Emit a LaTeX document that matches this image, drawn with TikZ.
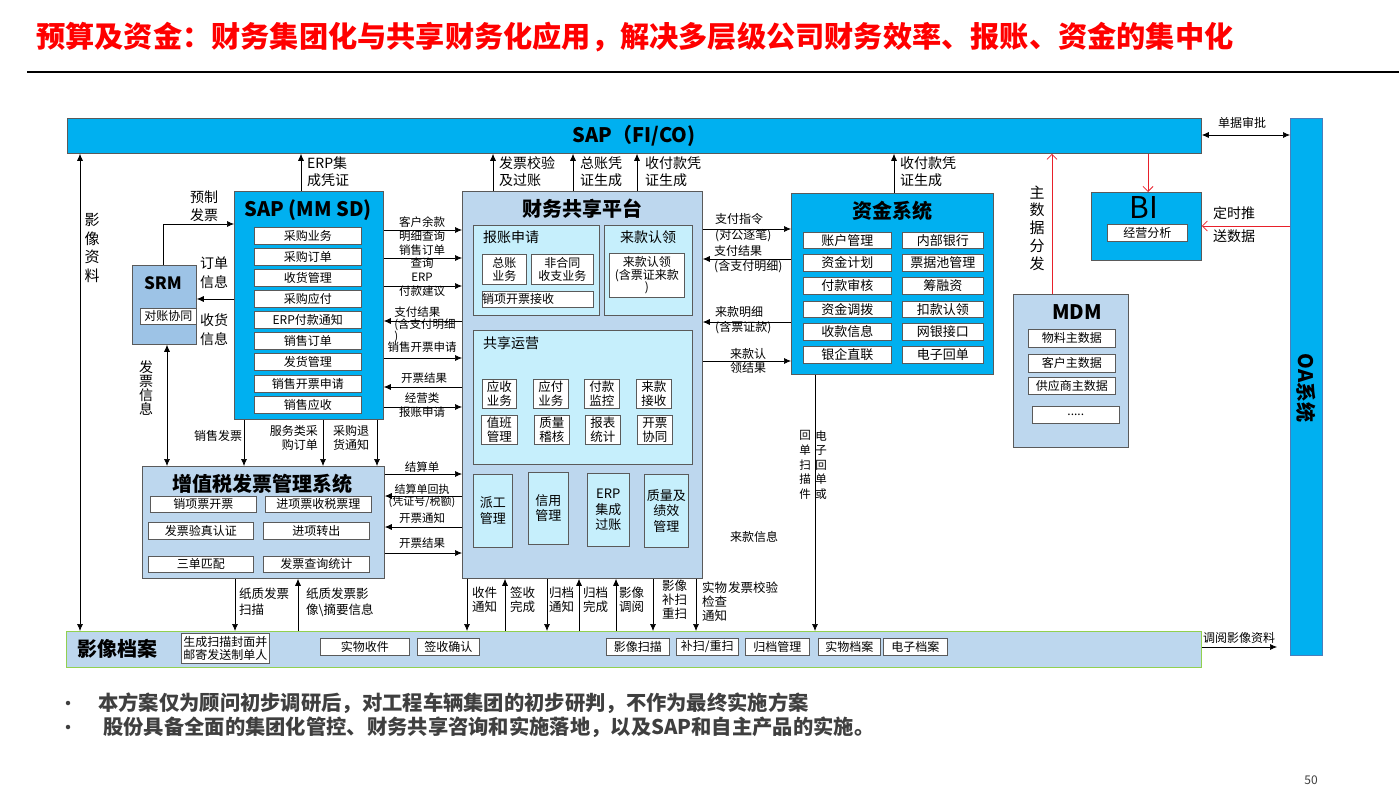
\documentclass[tikz,border=0pt]{standalone}
\usepackage{fontspec}
\setmainfont{Noto Sans CJK SC}
\usetikzlibrary{arrows.meta}
\definecolor{cyanb}{HTML}{00B0F0}
\definecolor{lblue}{HTML}{BDD7EE}
\definecolor{lcyan}{HTML}{C6EFFC}
\definecolor{srmc}{HTML}{9DC3E6}
\definecolor{bord}{HTML}{5A5A5A}
\definecolor{grn}{HTML}{92D050}
\definecolor{oab}{HTML}{4A7EBB}
\definecolor{redc}{HTML}{E8202A}
\definecolor{foot}{HTML}{3F3F3F}
\newcommand\fsz[2]{\fontsize{#1pt}{#2pt}\selectfont}
\newcommand\mybox[7]{\node[#1,anchor=north west,minimum width={#5-#3},minimum height={#6-#4}] (#2) at (#3,#4) {#7};}
\tikzset{
 bigbox/.style={draw=bord,line width=0.8pt,inner sep=0pt},
 ib/.style={draw=bord,fill=white,line width=0.6pt,inner sep=0pt,font=\fsz{12}{13},align=center},
 cb/.style={draw=bord,fill=lcyan,line width=0.6pt,inner sep=0pt,font=\fsz{12.5}{14},align=center},
 lab/.style={inner sep=0pt,align=center,font=\fsz{11.5}{14}},
 lab12/.style={inner sep=0pt,align=center,font=\fsz{12}{14}},
 lab14/.style={inner sep=0pt,align=left,font=\fsz{14}{17}},
 grp/.style={inner sep=0pt,font=\fsz{14}{16}},
 ttl/.style={inner sep=0pt,font=\fsz{20}{24}\bfseries},
 arr/.style={line width=0.7pt,-{Latex[length=7pt,width=6pt]}},
 darr/.style={line width=0.7pt,{Latex[length=7pt,width=6pt]}-{Latex[length=7pt,width=6pt]}},
 rarr/.style={draw=redc,line width=0.8pt,-{Straight Barb[length=5pt,width=10pt]}},
}
\begin{document}
\begin{tikzpicture}[x=1pt,y=-1pt]
\useasboundingbox (0,0) rectangle (1399,794);
% title
\node[anchor=west,inner sep=0pt,font=\fsz{29.2}{32}\bfseries,text=red] (title) at (36,37) {预算及资金：财务集团化与共享财务化应用，解决多层级公司财务效率、报账、资金的集中化};
\draw[line width=1.2pt] (27,72) -- (1399,72);
% SAP FI/CO
\mybox{bigbox,fill=cyanb}{sapfi}{67}{118}{1201}{153}{}
\node[ttl] (sapfit) at (634,136) {SAP（FI/CO)};
% OA
\mybox{bigbox,fill=cyanb,draw=oab}{oa}{1290}{118}{1322}{655}{}
\node[ttl,rotate=-90] (oat) at (1306,388) {OA系统};
% BI
\mybox{bigbox,fill=cyanb}{bi}{1091}{192}{1201}{260}{}
\node[inner sep=0pt,font=\fsz{30}{30}] (bit) at (1144,208) {BI};
\mybox{ib}{bijy}{1107}{224}{1187}{241}{经营分析}
% MDM
\mybox{bigbox,fill=lblue}{mdm}{1013}{294}{1128}{447}{}
\node[ttl] (mdmt) at (1077,312) {MDM};
\mybox{ib}{m1}{1028}{329}{1115}{347}{物料主数据}
\mybox{ib}{m2}{1028}{354}{1115}{372}{客户主数据}
\mybox{ib}{m3}{1028}{377}{1115}{394}{供应商主数据}
\mybox{ib}{m4}{1032}{406}{1119}{423}{.....}
% 资金系统
\mybox{bigbox,fill=cyanb}{zj}{791}{193}{993}{374}{}
\node[ttl] (zjt) at (892,211) {资金系统};
\tikzset{zb/.style={ib,font=\fsz{13}{14}}}
\mybox{zb}{z1}{803}{232}{891}{248}{账户管理}
\mybox{zb}{z2}{803}{254}{891}{271}{资金计划}
\mybox{zb}{z3}{803}{277}{891}{294}{付款审核}
\mybox{zb}{z4}{803}{301}{891}{317}{资金调拨}
\mybox{zb}{z5}{803}{323}{891}{340}{收款信息}
\mybox{zb}{z6}{803}{346}{891}{363}{银企直联}
\mybox{zb}{z7}{902}{232}{983}{248}{内部银行}
\mybox{zb}{z8}{902}{254}{983}{271}{票据池管理}
\mybox{zb}{z9}{902}{277}{983}{294}{筹融资}
\mybox{zb}{z10}{902}{301}{983}{317}{扣款认领}
\mybox{zb}{z11}{902}{323}{983}{340}{网银接口}
\mybox{zb}{z12}{902}{346}{983}{363}{电子回单}
% 财务共享平台
\mybox{bigbox,fill=lblue}{cw}{462}{191}{702}{578}{}
\node[ttl] (cwt) at (582,209) {财务共享平台};
\mybox{cb}{bz}{473}{225}{599}{315}{}
\node[grp,anchor=west] (bzt) at (483,237) {报账申请};
\mybox{ib}{bz1}{482}{254}{526}{284}{总账\\业务}
\mybox{ib}{bz2}{531}{254}{593}{284}{非合同\\收支业务}
\mybox{ib}{bz3}{482}{291}{593}{307}{}
\node[inner sep=0pt,anchor=west,font=\fsz{12}{13}] (bz3t) at (482,299) {销项开票接收};
\mybox{cb}{lk}{604}{225}{692}{315}{}
\node[grp] (lkt) at (648,237) {来款认领};
\mybox{ib,font=\fsz{12}{12.5}}{lk1}{609}{253}{684}{297}{来款认领\\(含票证来款\\)}
\mybox{cb}{gx}{473}{330}{692}{464}{}
\node[grp,anchor=west] (gxt) at (483,343) {共享运营};
\tikzset{sb/.style={ib,font=\fsz{12.5}{13.5}}}
\mybox{sb}{g1}{482}{379}{516}{408}{应收\\业务}
\mybox{sb}{g2}{533}{379}{568}{408}{应付\\业务}
\mybox{sb}{g3}{584}{379}{619}{408}{付款\\监控}
\mybox{sb}{g4}{636}{379}{671}{408}{来款\\接收}
\mybox{sb}{g5}{481}{415}{517}{444}{值班\\管理}
\mybox{sb}{g6}{534}{415}{569}{444}{质量\\稽核}
\mybox{sb}{g7}{585}{415}{620}{444}{报表\\统计}
\mybox{sb}{g8}{637}{415}{672}{444}{开票\\协同}
\tikzset{pb/.style={cb,font=\fsz{13}{15.5}}}
\mybox{pb}{p1}{473}{474}{512}{547}{派工\\管理}
\mybox{pb}{p2}{528}{472}{568}{544}{信用\\管理}
\mybox{pb}{p3}{587}{473}{629}{546}{ERP\\集成\\过账}
\mybox{pb}{p4}{644}{474}{688}{547}{质量及\\绩效\\管理}
% SAP MM SD
\mybox{bigbox,fill=cyanb}{mmsd}{234}{191}{383}{419}{}
\node[ttl] (mmsdt) at (308,210) {SAP (MM SD)};
\mybox{ib}{s1}{254}{227}{361}{244}{采购业务}
\mybox{ib}{s2}{254}{248}{361}{265}{采购订单}
\mybox{ib}{s3}{254}{269}{361}{286}{收货管理}
\mybox{ib}{s4}{254}{290}{361}{307}{采购应付}
\mybox{ib}{s5}{254}{311}{361}{328}{ERP付款通知}
\mybox{ib}{s6}{254}{332}{361}{349}{销售订单}
\mybox{ib}{s7}{254}{353}{361}{370}{发货管理}
\mybox{ib}{s8}{254}{375}{361}{392}{销售开票申请}
\mybox{ib}{s9}{254}{396}{361}{413}{销售应收}
% SRM
\mybox{bigbox,fill=srmc}{srm}{132}{265}{196}{344}{}
\node[inner sep=0pt,font=\fsz{17}{20}\bfseries] (srmt) at (163,283) {SRM};
\mybox{ib}{srm1}{140}{308}{196}{324}{对账协同}
% 增值税
\mybox{bigbox,fill=lblue}{zzs}{142}{466}{384}{578}{}
\node[ttl] (zzst) at (262,484) {增值税发票管理系统};
\mybox{ib}{v1}{150}{496}{256}{512}{销项票开票}
\mybox{ib}{v2}{265}{496}{371}{512}{进项票收税票理}
\mybox{ib}{v3}{148}{522}{253}{539}{发票验真认证}
\mybox{ib}{v4}{263}{522}{369}{539}{进项转出}
\mybox{ib}{v5}{148}{556}{253}{572}{三单匹配}
\mybox{ib}{v6}{263}{556}{369}{572}{发票查询统计}
% 影像档案
\mybox{bigbox,fill=lblue,draw=grn}{yx}{66}{631}{1201}{667}{}
\node[ttl] (yxt) at (117,649) {影像档案};
\mybox{ib,font=\fsz{12}{13}}{y0}{181}{633}{269}{663}{生成扫描封面并\\邮寄发送制单人}
\mybox{ib}{y1}{320}{638}{409}{655}{实物收件}
\mybox{ib}{y2}{417}{638}{479}{655}{签收确认}
\mybox{ib}{y3}{606}{638}{669}{655}{影像扫描}
\mybox{ib}{y4}{676}{638}{738}{655}{补扫/重扫}
\mybox{ib}{y5}{745}{638}{809}{655}{归档管理}
\mybox{ib}{y6}{818}{638}{880}{655}{实物档案}
\mybox{ib}{y7}{883}{638}{947}{655}{电子档案}
% ---------- connectors ----------
% 影像资料
\draw[darr] (sapfi.south -| 80,0) -- (yx.north -| 80,0);
\node[inner sep=0pt,align=center,font=\fsz{15}{18.7}] (c1) at (92,248) {影\\像\\资\\料};
% up to SAP FI/CO
\draw[arr] (mmsd.north -| 301,0) -- (sapfi.south -| 301,0);
\node[lab14,anchor=west] (c2) at (307,171.5) {ERP集\\成凭证};
\draw[arr] (cw.north -| 493,0) -- (sapfi.south -| 493,0);
\node[lab14,anchor=west] (c3) at (499,171.5) {发票校验\\及过账};
\draw[arr] (cw.north -| 573,0) -- (sapfi.south -| 573,0);
\node[lab14,anchor=west] (c4) at (580,171.5) {总账凭\\证生成};
\draw[arr] (cw.north -| 637,0) -- (sapfi.south -| 637,0);
\node[lab14,anchor=west] (c5) at (645,171.5) {收付款凭\\证生成};
\draw[arr] (zj.north -| 894,0) -- (sapfi.south -| 894,0);
\node[lab14,anchor=west] (c6) at (900,171.5) {收付款凭\\证生成};
% red
\draw[rarr] (mdm.north -| 1052,0) -- (sapfi.south -| 1052,0);
\node[inner sep=0pt,align=center,font=\fsz{15}{17.8}] (c7) at (1037,228) {主\\数\\据\\分\\发};
\draw[rarr] (sapfi.south -| 1148,0) -- (bi.north -| 1148,0);
\draw[rarr] (oa.west |- 0,226) -- (bi.east |- 0,226);
\node[inner sep=0pt,align=center,font=\fsz{14}{23}] (c8) at (1234,225) {定时推\\送数据};
% 单据审批
\draw[darr] (sapfi.east |- 0,135) -- (oa.west |- 0,135);
\node[lab12] (c9) at (1242,123) {单据审批};
% 调阅影像资料
\coordinate (dyend) at (1277,647);
\draw[arr] (yx.east |- 0,647) -- (dyend);
\node[lab12] (c10) at (1239,638) {调阅影像资料};
% SRM
\draw[arr] (srm.north -| 163,0) |- (mmsd.west |- 0,224);
\node[lab14,align=center,font=\fsz{14}{18}] (c11) at (204,206) {预制\\发票};
\draw[arr] (mmsd.west |- 0,299) -- (srm.east |- 0,299);
\node[lab14,align=center,font=\fsz{14}{19}] (c12) at (214,272.5) {订单\\信息};
\node[lab14,align=center,font=\fsz{14}{19}] (c13) at (214,330) {收货\\信息};
\draw[darr] (srm.south -| 167,0) -- (zzs.north -| 167,0);
\node[inner sep=0pt,align=center,font=\fsz{14}{14}] (c14) at (146,388) {发\\票\\信\\息};
% MMSD -> 增值税
\draw[arr] (mmsd.south -| 244,0) -- (zzs.north -| 244,0);
\node[lab12] (c15) at (218,436) {销售发票};
\draw[arr] (mmsd.south -| 323,0) -- (zzs.north -| 323,0);
\node[lab12,anchor=east,align=right] (c16) at (318,438) {服务类采\\购订单};
\draw[arr] (mmsd.south -| 377,0) -- (zzs.north -| 377,0);
\node[lab12,anchor=west,align=left] (c17) at (333,438) {采购退\\货通知};
% MMSD <-> 财务
\draw[arr] (mmsd.east |- 0,230) -- (cw.west |- 0,230);
\node[lab] (c18) at (422,229) {客户余款\\明细查询};
\draw[arr] (mmsd.east |- 0,258) -- (cw.west |- 0,258);
\node[lab,font=\fsz{11.5}{13}] (c19) at (422,256.5) {销售订单\\查询};
\draw[arr] (mmsd.east |- 0,286) -- (cw.west |- 0,286);
\node[lab] (c20) at (422,285) {ERP\\付款建议};
\draw[arr] (cw.west |- 0,321) -- (mmsd.east |- 0,321);
\node[lab,align=left,font=\fsz{11.5}{12}] (c21) at (425,325) {支付结果\\(含支付明细\\)};
\draw[arr] (mmsd.east |- 0,358) -- (cw.west |- 0,358);
\node[lab] (c22) at (422,347) {销售开票申请};
\draw[arr] (cw.west |- 0,387) -- (mmsd.east |- 0,387);
\node[lab] (c23) at (424,378) {开票结果};
\draw[arr] (mmsd.east |- 0,407) -- (cw.west |- 0,407);
\node[lab] (c24) at (422,405) {经营类\\报账申请};
% 增值税 <-> 财务
\draw[arr] (zzs.east |- 0,474) -- (cw.west |- 0,474);
\node[lab] (c25) at (422,467) {结算单};
\draw[arr] (cw.west |- 0,496) -- (zzs.east |- 0,496);
\node[lab,font=\fsz{11}{12}] (c26) at (422,496) {结算单回执\\(凭证号/税额)};
\draw[arr] (cw.west |- 0,527) -- (zzs.east |- 0,527);
\node[lab] (c27) at (422,518) {开票通知};
\draw[arr] (zzs.east |- 0,553) -- (cw.west |- 0,553);
\node[lab] (c28) at (422,543) {开票结果};
% 财务 <-> 资金
\draw[arr] (cw.east |- 0,229) -- (zj.west |- 0,229);
\node[lab12,anchor=west,align=left,font=\fsz{12}{16}] (c29) at (715,228) {支付指令\\(对公逐笔)};
\draw[arr] (zj.west |- 0,259) -- (cw.east |- 0,259);
\node[lab12,anchor=west,align=left,font=\fsz{12}{15}] (c30) at (714,259.5) {支付结果\\(含支付明细)};
\draw[arr] (zj.west |- 0,322) -- (cw.east |- 0,322);
\node[lab12,anchor=west,align=left,font=\fsz{12}{15}] (c31) at (715,320.5) {来款明细\\(含票证款)};
\draw[arr] (cw.east |- 0,361) -- (zj.west |- 0,361);
\node[lab12,font=\fsz{12}{13.5}] (c32) at (748,361) {来款认\\领结果};
% 财务 -> 影像档案
\tikzset{blab/.style={inner sep=0pt,anchor=west,align=left,font=\fsz{12.5}{14}}}
\draw[arr] (cw.south -| 467,0) -- (yx.north -| 467,0);
\node[blab] (c33) at (472,600) {收件\\通知};
\draw[arr] (yx.north -| 505,0) -- (cw.south -| 505,0);
\node[blab] (c34) at (510,600) {签收\\完成};
\draw[arr] (cw.south -| 547,0) -- (yx.north -| 547,0);
\node[blab] (c35) at (549,600) {归档\\通知};
\draw[arr] (yx.north -| 579,0) -- (cw.south -| 579,0);
\node[blab] (c36) at (583,600) {归档\\完成};
\draw[arr] (yx.north -| 616,0) -- (cw.south -| 616,0);
\node[blab] (c37) at (619,600) {影像\\调阅};
\draw[arr] (cw.south -| 653,0) -- (yx.north -| 653,0);
\node[blab] (c38) at (662,600) {影像\\补扫\\重扫};
\draw[arr] (cw.south -| 696,0) -- (yx.north -| 696,0);
\node[blab] (c39) at (702,602) {实物\\检查\\通知};
\node[blab] (c40) at (728,588) {发票校验};
% 增值税 <-> 影像档案
\draw[arr] (zzs.south -| 235,0) -- (yx.north -| 235,0);
\node[blab,font=\fsz{12.5}{16}] (c41) at (239,602) {纸质发票\\扫描};
\draw[arr] (yx.north -| 298,0) -- (zzs.south -| 298,0);
\node[blab,font=\fsz{12.5}{16}] (c42) at (306,602) {纸质发票影\\像\textbackslash 摘要信息};
% 资金 -> 影像档案
\draw[arr] (zj.south -| 815,0) -- (yx.north -| 815,0);
\node[inner sep=0pt,align=center,font=\fsz{11.5}{14.6}] (c43) at (805,465) {回\\单\\扫\\描\\件};
\node[inner sep=0pt,align=center,font=\fsz{11.5}{14.6}] (c44) at (821,465) {电\\子\\回\\单\\或};
\node[lab12] (c45) at (754,537) {来款信息};
% footer
\node[circle,fill=foot,inner sep=0pt,minimum size=4.5pt] (b1) at (68,703) {};
\node[circle,fill=foot,inner sep=0pt,minimum size=4.5pt] (b2) at (68,727) {};
\node[anchor=west,inner sep=0pt,font=\fsz{20.3}{24}\bfseries,text=foot] (f1) at (98,703) {本方案仅为顾问初步调研后，对工程车辆集团的初步研判，不作为最终实施方案};
\node[anchor=west,inner sep=0pt,font=\fsz{20.3}{24}\bfseries,text=foot] (f2) at (103,727) {股份具备全面的集团化管控、财务共享咨询和实施落地，以及SAP和自主产品的实施。};
\node[inner sep=0pt,font=\fsz{12}{14},text=foot] (pg) at (1311,780) {50};
\end{tikzpicture}
\end{document}
